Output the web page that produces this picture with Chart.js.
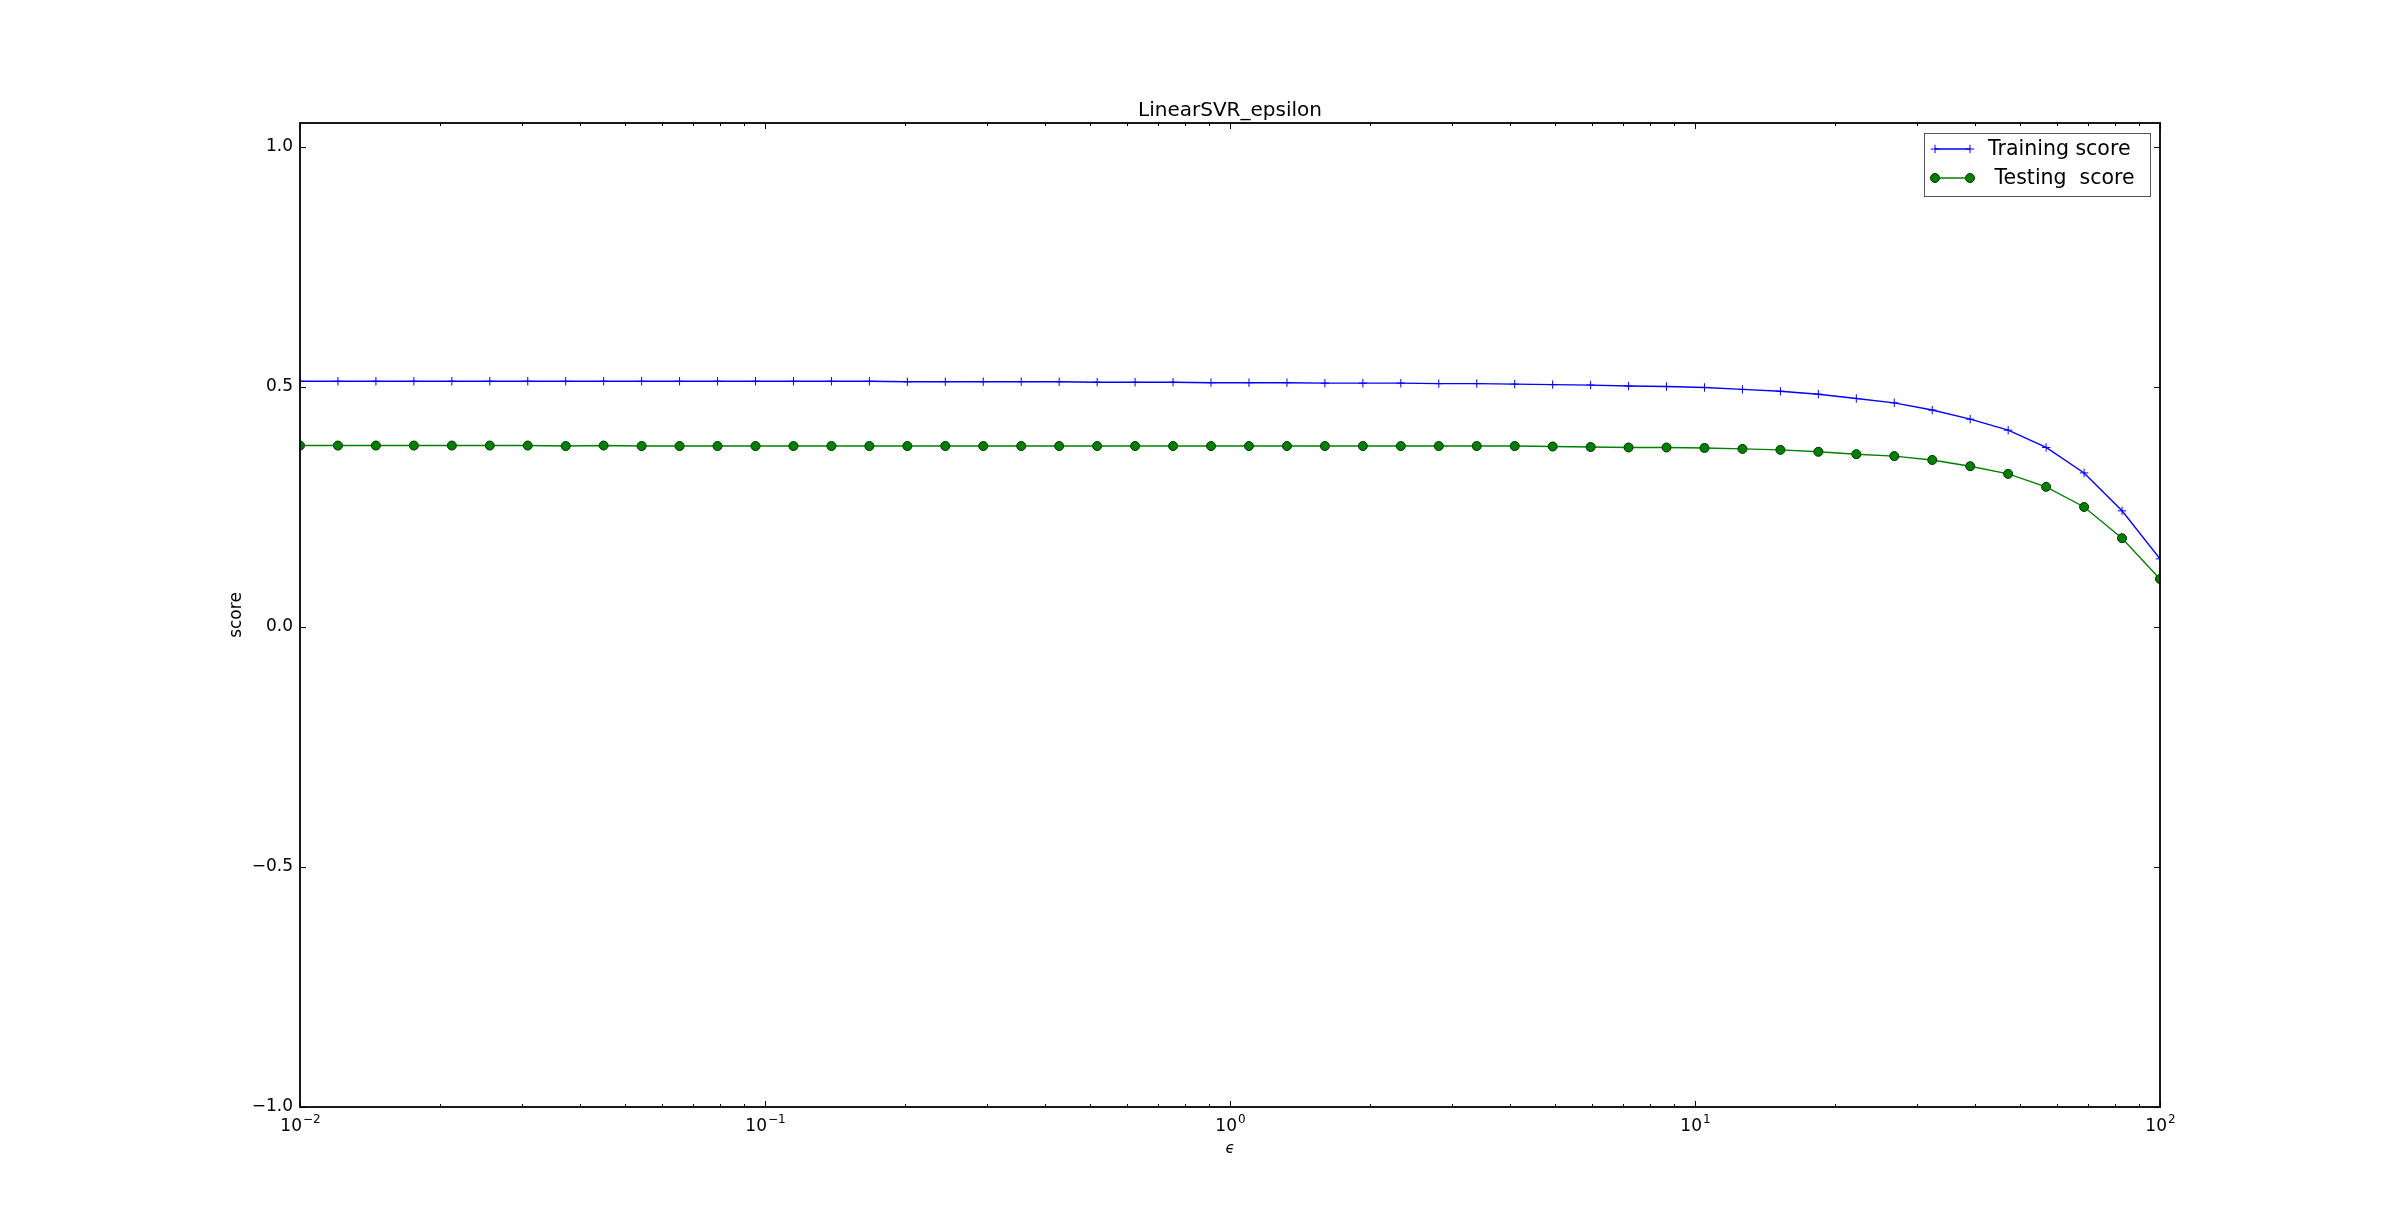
<!DOCTYPE html>
<html>
<head>
<meta charset="utf-8">
<title>LinearSVR_epsilon</title>
<script src="https://cdn.jsdelivr.net/npm/chart.js@4.4.1/dist/chart.umd.min.js"></script>
<style>
  html, body { margin:0; padding:0; background:#fff; }
  #wrap { width:2400px; height:1230px; }
</style>
</head>
<body>
<div id="wrap"><canvas id="chart" width="2400" height="1230"></canvas></div>
<script>
/* ---- data ---- */
const EPSILONS = [
  0.01, 0.012068, 0.014563, 0.017575, 0.021210, 0.025595, 0.030888, 0.037276, 0.044984, 0.054287,
  0.065513, 0.079060, 0.095410, 0.115140, 0.138950, 0.167683, 0.202359, 0.244205, 0.294705, 0.355648,
  0.429193, 0.517947, 0.625055, 0.754312, 0.910298, 1.098541, 1.325711, 1.599859, 1.930698, 2.329952,
  2.811769, 3.393222, 4.094915, 4.941713, 5.963623, 7.196857, 8.685114, 10.481131, 12.648552, 15.264180,
  18.420700, 22.229965, 26.826958, 32.374575, 39.069399, 47.148664, 56.898660, 68.664885, 82.864277, 100
];
const TRAINING_SCORE = [
  0.512, 0.512, 0.512, 0.512, 0.512, 0.512, 0.512, 0.512, 0.512, 0.512,
  0.512, 0.512, 0.512, 0.512, 0.512, 0.512, 0.511, 0.511, 0.511, 0.511,
  0.511, 0.510, 0.510, 0.510, 0.509, 0.509, 0.509, 0.508, 0.508, 0.508,
  0.507, 0.507, 0.506, 0.505, 0.504, 0.502, 0.501, 0.499, 0.495, 0.491,
  0.485, 0.476, 0.467, 0.452, 0.433, 0.410, 0.374, 0.321, 0.242, 0.142
];
const TESTING_SCORE = [
  0.378, 0.378, 0.378, 0.378, 0.378, 0.378, 0.378, 0.377, 0.378, 0.377,
  0.377, 0.377, 0.377, 0.377, 0.377, 0.377, 0.377, 0.377, 0.377, 0.377,
  0.377, 0.377, 0.377, 0.377, 0.377, 0.377, 0.377, 0.377, 0.377, 0.377,
  0.377, 0.377, 0.377, 0.376, 0.375, 0.374, 0.374, 0.373, 0.371, 0.369,
  0.365, 0.360, 0.356, 0.348, 0.335, 0.319, 0.292, 0.250, 0.185, 0.100
];
const X_TICKS = [0.01, 0.1, 1, 10, 100];
const X_TICK_EXP = ['\u22122', '\u22121', '0', '1', '2'];
const Y_TICKS = [-1, -0.5, 0, 0.5, 1];
const Y_TICK_LABELS = ['\u22121.0', '\u22120.5', '0.0', '0.5', '1.0'];

const FONT = '"DejaVu Sans", "Liberation Sans", sans-serif';

// matplotlib-classic look: frame, inward ticks on every side, labels, legend
const mplAxes = {
  id:'mplAxes',
  beforeDraw(chart){
    const ctx = chart.ctx;
    ctx.save();
    ctx.fillStyle = '#fff';
    ctx.fillRect(0, 0, chart.width, chart.height);
    ctx.restore();
  },
  afterDatasetsDraw(chart){
    const { ctx, chartArea:a, scales:{ x, y } } = chart;
    ctx.save();

    const seg = (x1, y1, x2, y2)=>{ ctx.beginPath(); ctx.moveTo(x1, y1); ctx.lineTo(x2, y2); ctx.stroke(); };

    // ticks
    ctx.strokeStyle = '#000';
    ctx.lineWidth = 1;
    X_TICKS.forEach((v, i)=>{
      const px = Math.round(x.getPixelForValue(v)) + 0.5;
      seg(px, a.bottom, px, a.bottom - 6);
      seg(px, a.top, px, a.top + 6);
      if(i < X_TICKS.length - 1){
        for(let m = 2; m <= 9; m++){
          const mx = Math.round(x.getPixelForValue(v * m)) + 0.5;
          seg(mx, a.bottom, mx, a.bottom - 3);
          seg(mx, a.top, mx, a.top + 3);
        }
      }
    });
    Y_TICKS.forEach(v=>{
      const py = Math.round(y.getPixelForValue(v)) + 0.5;
      seg(a.left, py, a.left + 6, py);
      seg(a.right, py, a.right - 6, py);
    });

    // frame
    ctx.lineWidth = 1.8;
    ctx.strokeRect(a.left, a.top, a.right - a.left, a.bottom - a.top);

    // y tick labels
    ctx.fillStyle = '#000';
    ctx.font = `17px ${FONT}`;
    ctx.textAlign = 'right';
    ctx.textBaseline = 'middle';
    Y_TICKS.forEach((v, i)=>{
      ctx.fillText(Y_TICK_LABELS[i], a.left - 7, y.getPixelForValue(v));
    });

    // x tick labels: 10 with a raised exponent
    ctx.textBaseline = 'alphabetic';
    ctx.textAlign = 'left';
    X_TICKS.forEach((v, i)=>{
      ctx.font = `17px ${FONT}`;
      const wBase = ctx.measureText('10').width;
      ctx.font = `12px ${FONT}`;
      const wExp = ctx.measureText(X_TICK_EXP[i]).width;
      const start = x.getPixelForValue(v) - (wBase + wExp) / 2;
      ctx.font = `17px ${FONT}`;
      ctx.fillText('10', start, a.bottom + 24);
      ctx.font = `12px ${FONT}`;
      ctx.fillText(X_TICK_EXP[i], start + wBase + 1, a.bottom + 16);
    });

    // title
    ctx.font = `20px ${FONT}`;
    ctx.textAlign = 'center';
    ctx.fillText('LinearSVR_epsilon', (a.left + a.right) / 2, a.top - 7);

    // axis labels
    ctx.font = `italic 15px ${FONT}`;
    ctx.fillText('\u03f5', (a.left + a.right) / 2, a.bottom + 46);
    ctx.save();
    ctx.translate(a.left - 63, (a.top + a.bottom) / 2);
    ctx.rotate(-Math.PI / 2);
    ctx.font = `17px ${FONT}`;
    ctx.textBaseline = 'middle';
    ctx.fillText('score', 0, 0);
    ctx.restore();

    // legend (upper right)
    const lx = a.right - 236, ly = a.top + 10, lw = 226, lh = 63;
    ctx.fillStyle = '#fff';
    ctx.fillRect(lx, ly, lw, lh);
    ctx.strokeStyle = '#555';
    ctx.lineWidth = 1;
    ctx.strokeRect(lx + 0.5, ly + 0.5, lw, lh);
    chart.data.datasets.forEach((ds, i)=>{
      const ry = ly + 16 + i * 29;
      const x1 = lx + 11, x2 = lx + 46;
      ctx.strokeStyle = ds.borderColor;
      ctx.lineWidth = ds.borderWidth;
      seg(x1, ry, x2, ry);
      [x1, x2].forEach(px=>{
        ctx.fillStyle = ds.pointBackgroundColor;
        ctx.strokeStyle = ds.pointBorderColor;
        ctx.lineWidth = ds.pointBorderWidth;
        ctx.beginPath();
        if(ds.pointStyle === 'circle'){
          ctx.arc(px, ry, ds.pointRadius, 0, Math.PI * 2);
          ctx.fill(); ctx.stroke();
        } else {
          ctx.moveTo(px - ds.pointRadius, ry); ctx.lineTo(px + ds.pointRadius, ry);
          ctx.moveTo(px, ry - ds.pointRadius); ctx.lineTo(px, ry + ds.pointRadius);
          ctx.stroke();
        }
      });
      ctx.fillStyle = '#000';
      ctx.font = `20.5px ${FONT}`;
      ctx.textAlign = 'left';
      ctx.textBaseline = 'middle';
      ctx.fillText(ds.label, lx + 64, ry + 1);
    });

    ctx.restore();
  }
};

new Chart(document.getElementById('chart'), {
  type:'line',
  data:{
    datasets:[
      {
        label:'Training score',
        data: EPSILONS.map((e, i)=>({ x:e, y:TRAINING_SCORE[i] })),
        borderColor:'#0000ff', borderWidth:1.4,
        pointStyle:'cross', pointRadius:4.2, pointBorderWidth:1,
        pointBorderColor:'#0000ff', pointBackgroundColor:'#0000ff',
        tension:0, clip:0
      },
      {
        label:' Testing  score',
        data: EPSILONS.map((e, i)=>({ x:e, y:TESTING_SCORE[i] })),
        borderColor:'#008000', borderWidth:1.4,
        pointStyle:'circle', pointRadius:4.5, pointBorderWidth:1,
        pointBorderColor:'#003300', pointBackgroundColor:'#008000',
        tension:0, clip:0
      }
    ]
  },
  options:{
    responsive:false, animation:false, devicePixelRatio:1,
    layout:{ padding:{ left:300, right:240, top:123, bottom:123 } },
    plugins:{ legend:{ display:false }, title:{ display:false }, tooltip:{ enabled:false } },
    scales:{
      x:{ type:'logarithmic', min:0.01, max:100, display:false },
      y:{ type:'linear', min:-1, max:1.05, display:false }
    }
  },
  plugins:[mplAxes]
});
</script>
</body>
</html>
